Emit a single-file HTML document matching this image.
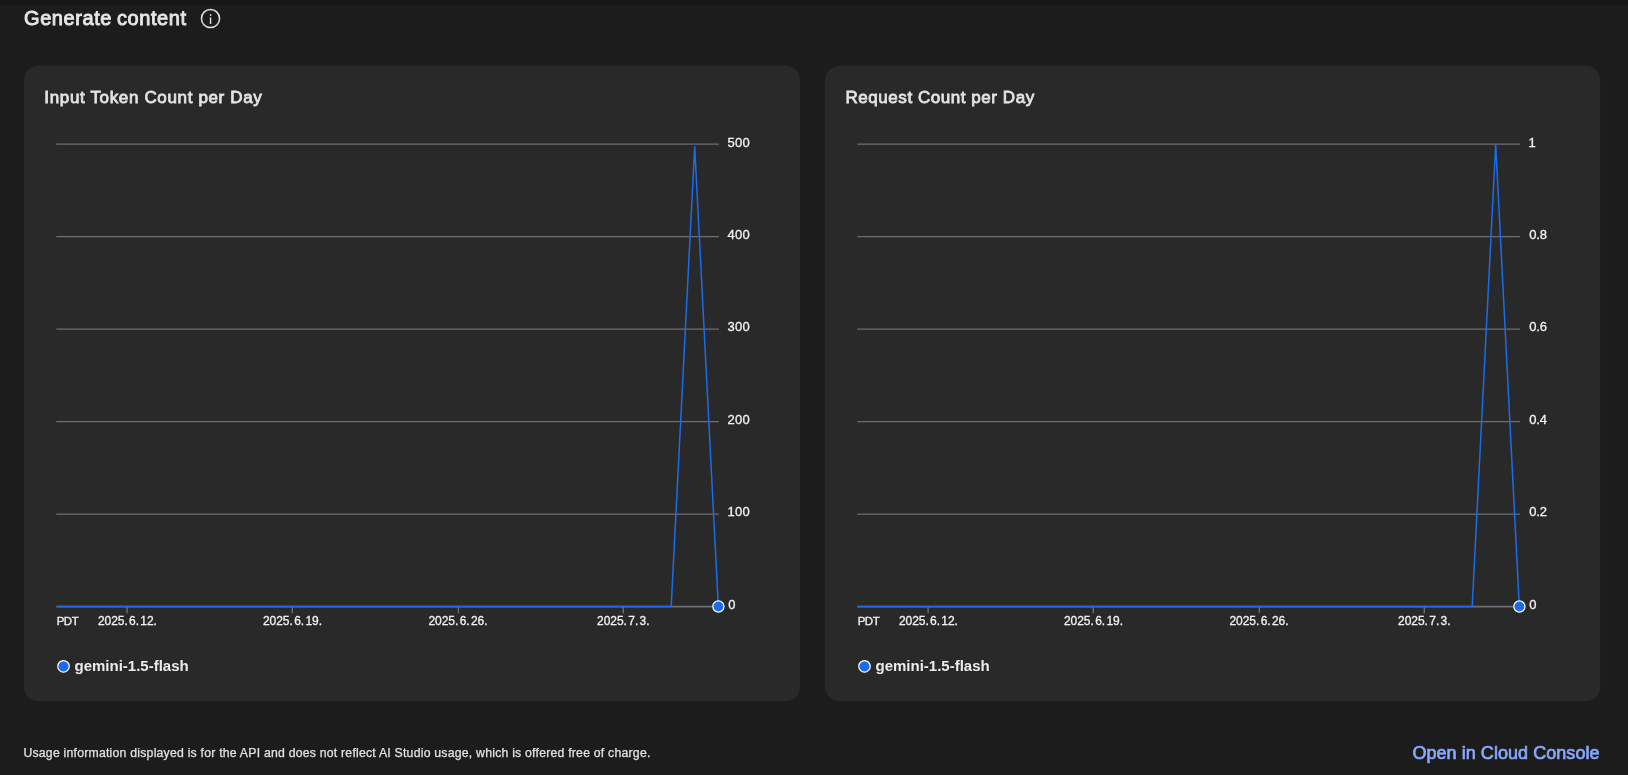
<!DOCTYPE html>
<html lang="en">
<head>
<meta charset="utf-8">
<title>Generate content</title>
<style>
html,body{margin:0;padding:0;}
body{width:1628px;height:775px;background:#1c1c1c;overflow:hidden;position:relative;font-family:"Liberation Sans",sans-serif;color:#e3e3e3;}
.page{position:absolute;left:0;top:0;width:1628px;height:775px;will-change:transform;}
.topstrip{position:absolute;left:0;top:0;width:1628px;height:4.75px;background:#171717;}
.t{position:absolute;white-space:nowrap;margin:0;font-weight:normal;text-decoration:none;}
.h1{left:24px;top:6.27px;font-size:20px;line-height:24px;color:#e6e6e6;letter-spacing:0.58px;word-spacing:-1.2px;-webkit-text-stroke:0.9px #e6e6e6;}
.ctitle{top:87.41px;font-size:17px;line-height:22px;color:#e3e3e3;-webkit-text-stroke:0.8px #e3e3e3;}
.c1{left:44.3px;letter-spacing:0.65px;}
.c2{left:845.5px;letter-spacing:0.55px;}
.gfx{position:absolute;left:0;top:0;}
.yl{font-family:"Liberation Sans",sans-serif;font-size:13px;fill:#f2f2f2;letter-spacing:0.25px;stroke:#f2f2f2;stroke-width:0.3px;}
.xl{font-family:"Liberation Sans",sans-serif;font-size:12px;fill:#f2f2f2;stroke:#f2f2f2;stroke-width:0.3px;}
.xd{word-spacing:-1.9px;letter-spacing:-0.05px;}
.pdt{font-size:11.5px;letter-spacing:-0.5px;}
.lg{font-family:"Liberation Sans",sans-serif;font-size:15px;font-weight:bold;fill:#ececec;}
.foot{left:23.4px;top:745.46px;font-size:12.25px;line-height:16px;color:#e3e3e3;letter-spacing:0.225px;-webkit-text-stroke:0.25px #e3e3e3;}
.link{left:1412.4px;top:741.66px;font-size:18px;line-height:22px;color:#87a9ff;letter-spacing:0.05px;-webkit-text-stroke:0.7px #87a9ff;}
</style>
</head>
<body>
<div class="page">
<div class="topstrip"></div>
<svg class="gfx" width="1628" height="775" viewBox="0 0 1628 775">
<rect x="24" y="65.8" width="776" height="635.4" rx="14.5" fill="#292929"/>
<rect x="825" y="65.8" width="775.2" height="635.4" rx="14.5" fill="#292929"/>
<circle cx="210.5" cy="18.55" r="9.05" fill="none" stroke="#e3e3e3" stroke-width="1.5"/>
<rect x="209.85" y="17.4" width="1.4" height="6.6" fill="#e3e3e3"/>
<rect x="209.85" y="14.2" width="1.4" height="1.7" fill="#e3e3e3"/>
<g transform="translate(0,0)">
<line x1="56.3" y1="144.1" x2="718.9" y2="144.1" stroke="#6c6e77" stroke-width="1.3"/>
<line x1="56.3" y1="236.6" x2="718.9" y2="236.6" stroke="#6c6e77" stroke-width="1.3"/>
<line x1="56.3" y1="329.05" x2="718.9" y2="329.05" stroke="#6c6e77" stroke-width="1.3"/>
<line x1="56.3" y1="421.55" x2="718.9" y2="421.55" stroke="#6c6e77" stroke-width="1.3"/>
<line x1="56.3" y1="514.05" x2="718.9" y2="514.05" stroke="#6c6e77" stroke-width="1.3"/>
<line x1="56.3" y1="606.7" x2="718.9" y2="606.7" stroke="#6c6e77" stroke-width="1.8"/>
<line x1="127.1" y1="607" x2="127.1" y2="613.2" stroke="#6c6e77" stroke-width="1.4"/>
<line x1="292.3" y1="607" x2="292.3" y2="613.2" stroke="#6c6e77" stroke-width="1.4"/>
<line x1="458.4" y1="607" x2="458.4" y2="613.2" stroke="#6c6e77" stroke-width="1.4"/>
<line x1="623.3" y1="607" x2="623.3" y2="613.2" stroke="#6c6e77" stroke-width="1.4"/>
<polyline points="57,606.4 671.2,606.4 694.7,146.4 718.3,606.4" fill="none" stroke="#1b6ce9" stroke-width="1.5" stroke-linejoin="bevel"/>
<circle cx="718.4" cy="606.5" r="5.6" fill="#1b6ce9" stroke="#ffffff" stroke-width="1.2"/>
<text class="yl" x="727.6" y="146.50">500</text>
<text class="yl" x="727.6" y="239.00">400</text>
<text class="yl" x="727.6" y="331.45">300</text>
<text class="yl" x="727.6" y="423.95">200</text>
<text class="yl" x="727.6" y="516.45">100</text>
<text class="yl" x="728.2" y="608.70">0</text>
<text class="xl pdt" x="56.7" y="624.5">PDT</text>
<text class="xl xd" x="127.4" y="624.5" text-anchor="middle">2025. 6. 12.</text>
<text class="xl xd" x="292.5" y="624.5" text-anchor="middle">2025. 6. 19.</text>
<text class="xl xd" x="458" y="624.5" text-anchor="middle">2025. 6. 26.</text>
<text class="xl xd" x="623.3" y="624.5" text-anchor="middle">2025. 7. 3.</text>
<circle cx="63.5" cy="666.3" r="5.75" fill="#1b6ce9" stroke="#ffffff" stroke-width="1.2"/>
<text class="lg" x="74.5" y="670.8">gemini-1.5-flash</text>
</g>
<g transform="translate(801,0)">
<line x1="56.3" y1="144.1" x2="718.9" y2="144.1" stroke="#6c6e77" stroke-width="1.3"/>
<line x1="56.3" y1="236.6" x2="718.9" y2="236.6" stroke="#6c6e77" stroke-width="1.3"/>
<line x1="56.3" y1="329.05" x2="718.9" y2="329.05" stroke="#6c6e77" stroke-width="1.3"/>
<line x1="56.3" y1="421.55" x2="718.9" y2="421.55" stroke="#6c6e77" stroke-width="1.3"/>
<line x1="56.3" y1="514.05" x2="718.9" y2="514.05" stroke="#6c6e77" stroke-width="1.3"/>
<line x1="56.3" y1="606.7" x2="718.9" y2="606.7" stroke="#6c6e77" stroke-width="1.8"/>
<line x1="127.1" y1="607" x2="127.1" y2="613.2" stroke="#6c6e77" stroke-width="1.4"/>
<line x1="292.3" y1="607" x2="292.3" y2="613.2" stroke="#6c6e77" stroke-width="1.4"/>
<line x1="458.4" y1="607" x2="458.4" y2="613.2" stroke="#6c6e77" stroke-width="1.4"/>
<line x1="623.3" y1="607" x2="623.3" y2="613.2" stroke="#6c6e77" stroke-width="1.4"/>
<polyline points="57,606.4 671.2,606.4 694.7,144.4 718.3,606.4" fill="none" stroke="#1b6ce9" stroke-width="1.5" stroke-linejoin="bevel"/>
<circle cx="718.4" cy="606.5" r="5.6" fill="#1b6ce9" stroke="#ffffff" stroke-width="1.2"/>
<text class="yl" x="727.6" y="146.50">1</text>
<text class="yl" x="728.3" y="239.00" style="letter-spacing:-0.25px">0.8</text>
<text class="yl" x="728.3" y="331.45" style="letter-spacing:-0.25px">0.6</text>
<text class="yl" x="728.3" y="423.95" style="letter-spacing:-0.25px">0.4</text>
<text class="yl" x="728.3" y="516.45" style="letter-spacing:-0.25px">0.2</text>
<text class="yl" x="728.2" y="608.70">0</text>
<text class="xl pdt" x="56.7" y="624.5">PDT</text>
<text class="xl xd" x="127.4" y="624.5" text-anchor="middle">2025. 6. 12.</text>
<text class="xl xd" x="292.5" y="624.5" text-anchor="middle">2025. 6. 19.</text>
<text class="xl xd" x="458" y="624.5" text-anchor="middle">2025. 6. 26.</text>
<text class="xl xd" x="623.3" y="624.5" text-anchor="middle">2025. 7. 3.</text>
<circle cx="63.5" cy="666.3" r="5.75" fill="#1b6ce9" stroke="#ffffff" stroke-width="1.2"/>
<text class="lg" x="74.5" y="670.8">gemini-1.5-flash</text>
</g>
</svg>
<h1 class="t h1">Generate content</h1>
<h2 class="t ctitle c1">Input Token Count per Day</h2>
<h2 class="t ctitle c2">Request Count per Day</h2>
<p class="t foot">Usage information displayed is for the API and does not reflect AI Studio usage, which is offered free of charge.</p>
<a class="t link" href="#">Open in Cloud Console</a>
</div>
</body>
</html>
